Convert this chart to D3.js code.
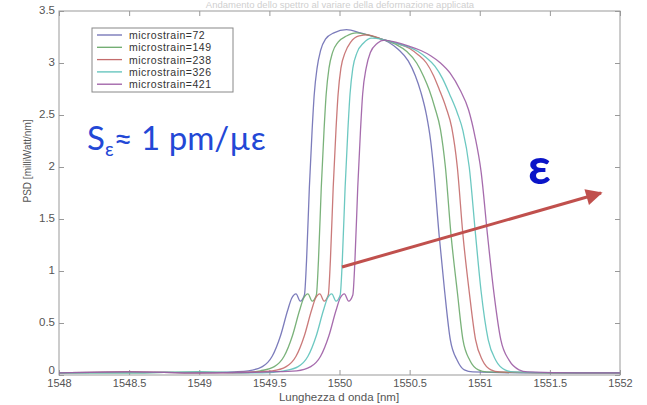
<!DOCTYPE html>
<html>
<head>
<meta charset="utf-8">
<script src="https://cdn.jsdelivr.net/npm/d3@7"></script>
<style>
  body { margin: 0; background: #fff; }
  svg { display: block; }
</style>
</head>
<body>
<div id="chart"></div>
<script>
// Spectra: [wavelength nm, PSD mW/nm]
const s72 = [[1548.00,0.02],[1548.50,0.03],[1549.00,0.02],[1549.25,0.03],[1549.35,0.04],[1549.45,0.08],[1549.52,0.18],[1549.58,0.38],[1549.63,0.62],[1549.66,0.74],[1549.69,0.78],[1549.72,0.71],[1549.75,0.77],[1549.765,1.10],[1549.785,1.80],[1549.805,2.36],[1549.82,2.70],[1549.84,2.95],[1549.865,3.12],[1549.90,3.23],[1549.96,3.29],[1550.05,3.32],[1550.15,3.29],[1550.25,3.25],[1550.35,3.20],[1550.42,3.13],[1550.49,3.02],[1550.54,2.88],[1550.58,2.72],[1550.62,2.50],[1550.65,2.25],[1550.67,2.00],[1550.71,1.35],[1550.75,0.80],[1550.79,0.34],[1550.84,0.14],[1550.89,0.05],[1550.95,0.03],[1551.40,0.02],[1552.00,0.02]];
const s149 = [[1548.00,0.02],[1548.50,0.02],[1549.00,0.03],[1549.30,0.02],[1549.435,0.04],[1549.535,0.08],[1549.605,0.18],[1549.665,0.38],[1549.715,0.62],[1549.745,0.74],[1549.775,0.78],[1549.805,0.71],[1549.835,0.77],[1549.85,1.10],[1549.87,1.80],[1549.89,2.36],[1549.905,2.70],[1549.925,2.95],[1549.95,3.10],[1549.99,3.20],[1550.05,3.26],[1550.12,3.29],[1550.20,3.27],[1550.30,3.23],[1550.40,3.18],[1550.48,3.11],[1550.55,3.00],[1550.60,2.87],[1550.64,2.74],[1550.68,2.57],[1550.72,2.36],[1550.755,2.00],[1550.795,1.35],[1550.84,0.80],[1550.88,0.34],[1550.93,0.14],[1550.99,0.05],[1551.05,0.03],[1551.50,0.02],[1552.00,0.02]];
const s238 = [[1548.00,0.02],[1548.50,0.03],[1549.00,0.02],[1549.40,0.03],[1549.52,0.04],[1549.62,0.08],[1549.69,0.18],[1549.75,0.38],[1549.80,0.62],[1549.83,0.74],[1549.86,0.78],[1549.89,0.71],[1549.92,0.77],[1549.935,1.10],[1549.955,1.80],[1549.975,2.36],[1549.99,2.70],[1550.01,2.95],[1550.04,3.10],[1550.08,3.20],[1550.14,3.26],[1550.20,3.27],[1550.30,3.23],[1550.40,3.19],[1550.50,3.14],[1550.56,3.08],[1550.62,3.00],[1550.67,2.88],[1550.71,2.75],[1550.76,2.57],[1550.80,2.38],[1550.84,2.00],[1550.88,1.35],[1550.925,0.80],[1550.97,0.34],[1551.02,0.14],[1551.08,0.05],[1551.14,0.03],[1551.60,0.02],[1552.00,0.02]];
const s326 = [[1548.00,0.02],[1548.50,0.02],[1549.00,0.03],[1549.45,0.02],[1549.605,0.04],[1549.705,0.08],[1549.775,0.18],[1549.835,0.38],[1549.885,0.62],[1549.915,0.74],[1549.945,0.78],[1549.975,0.71],[1550.005,0.77],[1550.02,1.10],[1550.04,1.80],[1550.06,2.36],[1550.075,2.70],[1550.095,2.95],[1550.125,3.10],[1550.17,3.19],[1550.23,3.24],[1550.30,3.23],[1550.40,3.19],[1550.50,3.15],[1550.56,3.11],[1550.62,3.05],[1550.68,2.97],[1550.735,2.85],[1550.785,2.70],[1550.84,2.52],[1550.88,2.35],[1550.925,2.00],[1550.97,1.35],[1551.01,0.80],[1551.06,0.34],[1551.115,0.14],[1551.18,0.05],[1551.24,0.03],[1551.60,0.02],[1552.00,0.02]];
const s421 = [[1548.00,0.02],[1548.50,0.03],[1549.00,0.02],[1549.50,0.03],[1549.695,0.04],[1549.795,0.08],[1549.865,0.18],[1549.925,0.38],[1549.975,0.62],[1550.005,0.74],[1550.035,0.78],[1550.065,0.71],[1550.095,0.77],[1550.11,1.10],[1550.13,1.80],[1550.15,2.36],[1550.165,2.70],[1550.19,2.95],[1550.22,3.10],[1550.27,3.19],[1550.32,3.22],[1550.40,3.20],[1550.50,3.16],[1550.58,3.12],[1550.65,3.07],[1550.72,3.00],[1550.79,2.90],[1550.86,2.74],[1550.92,2.55],[1550.965,2.30],[1551.01,1.95],[1551.055,1.35],[1551.10,0.80],[1551.15,0.34],[1551.21,0.14],[1551.28,0.05],[1551.34,0.03],[1551.70,0.02],[1552.00,0.02]];

const seriesNames = ['microstrain=72', 'microstrain=149', 'microstrain=238', 'microstrain=326', 'microstrain=421'];
const seriesData = [s72, s149, s238, s326, s421];
const seriesColors = ['#6e6eb4', '#6caa6c', '#c46c6c', '#5cc2ba', '#9c5ca4'];

const xTicks = [1548, 1548.5, 1549, 1549.5, 1550, 1550.5, 1551, 1551.5, 1552];
const yTicks = [0, 0.5, 1, 1.5, 2, 2.5, 3, 3.5];

const width = 647;
const height = 405;
const margin = { top: 11, right: 27, bottom: 30, left: 59 };
const plotW = width - margin.left - margin.right;
const plotH = height - margin.top - margin.bottom;

const svg = d3.select('#chart')
  .append('svg')
  .attr('width', width)
  .attr('height', height);

svg.append('rect')
  .attr('width', width)
  .attr('height', height)
  .attr('fill', '#fff');

// faint title above the plot
svg.append('text')
  .attr('x', 340)
  .attr('y', 8)
  .attr('text-anchor', 'middle')
  .style('font-family', 'Liberation Sans, Arial, sans-serif')
  .style('font-size', '9.5px')
  .style('fill', '#cfcfcf')
  .text('Andamento dello spettro al variare della deformazione applicata');

const g = svg.append('g')
  .attr('transform', `translate(${margin.left},${margin.top})`);

const x = d3.scaleLinear().domain([1548, 1552]).range([0, plotW]);
const y = d3.scaleLinear().domain([0, 3.5]).range([plotH, 0]);

const axisFont = 'Liberation Sans, Arial, sans-serif';
const axisColor = '#555';

function styleAxis(sel) {
  sel.select('.domain').remove();
  sel.selectAll('line').attr('stroke', '#999');
  sel.selectAll('text')
    .style('font-family', axisFont)
    .style('font-size', '11.5px')
    .style('fill', axisColor);
}

g.append('g')
  .attr('transform', `translate(0,${plotH})`)
  .call(d3.axisBottom(x).tickValues(xTicks).tickFormat(d3.format('')).tickSizeInner(-5).tickSizeOuter(0).tickPadding(4))
  .call(styleAxis)
  .selectAll('text').style('font-size', '11px');

g.append('g')
  .call(d3.axisTop(x).tickValues(xTicks).tickFormat('').tickSizeInner(-5).tickSizeOuter(0))
  .call(styleAxis);

g.append('g')
  .call(d3.axisLeft(y).tickValues(yTicks).tickFormat(d3.format('')).tickSizeInner(-5).tickSizeOuter(0).tickPadding(4))
  .call(styleAxis)
  .selectAll('text').attr('dy', d => d === 0 ? '-0.15em' : '0.2em');

g.append('g')
  .attr('transform', `translate(${plotW},0)`)
  .call(d3.axisRight(y).tickValues(yTicks).tickFormat('').tickSizeInner(-5).tickSizeOuter(0))
  .call(styleAxis);

g.append('rect')
  .attr('width', plotW)
  .attr('height', plotH)
  .attr('fill', 'none')
  .attr('stroke', '#999')
  .attr('stroke-width', 1);

// spectra
const line = d3.line()
  .x(d => x(d[0]))
  .y(d => y(d[1]))
  .curve(d3.curveMonotoneX);

g.selectAll('.spectrum')
  .data(seriesData)
  .enter()
  .append('path')
  .attr('class', 'spectrum')
  .attr('d', line)
  .attr('fill', 'none')
  .attr('stroke', (d, i) => seriesColors[i])
  .attr('stroke-width', 1.3)
  .attr('opacity', 0.9);

// legend
const legend = svg.append('g').attr('transform', 'translate(92,28)');
legend.append('rect')
  .attr('width', 141)
  .attr('height', 64)
  .attr('fill', '#fff')
  .attr('stroke', '#888');

seriesNames.forEach((name, i) => {
  const ly = 7 + i * 12.3;
  legend.append('line')
    .attr('x1', 5).attr('x2', 30)
    .attr('y1', ly).attr('y2', ly)
    .attr('stroke', seriesColors[i])
    .attr('stroke-width', 1.3);
  legend.append('text')
    .attr('x', 37)
    .attr('y', ly + 4)
    .style('font-family', axisFont)
    .style('font-size', '10.5px')
    .style('letter-spacing', '0.5px')
    .style('fill', '#333')
    .text(name);
});

// axis titles
svg.append('text')
  .attr('x', 339)
  .attr('y', 401)
  .attr('text-anchor', 'middle')
  .style('font-family', axisFont)
  .style('font-size', '11.5px')
  .style('fill', axisColor)
  .text('Lunghezza d onda [nm]');

svg.append('text')
  .attr('transform', 'translate(31,161) rotate(-90)')
  .attr('text-anchor', 'middle')
  .style('font-family', axisFont)
  .style('font-size', '10px')
  .style('fill', axisColor)
  .text('PSD [milliWatt/nm]');

// annotations
const note = svg.append('text')
  .attr('x', 87)
  .attr('y', 150)
  .style('font-family', 'Lato, Open Sans, sans-serif')
  .style('font-size', '33px')
  .style('fill', '#2348d6');
note.append('tspan').text('S');
note.append('tspan').attr('dy', 6).style('font-size', '19px').text('ε');
note.append('tspan').attr('dy', -6).text('≈ 1 pm/µε');

svg.append('text')
  .attr('x', 528)
  .attr('y', 184)
  .style('font-family', 'Lato, Open Sans, sans-serif')
  .style('font-size', '50px')
  .style('font-weight', 'bold')
  .style('fill', '#0a14c8')
  .text('ε');

svg.append('defs').append('marker')
  .attr('id', 'head')
  .attr('viewBox', '0 0 10 10')
  .attr('refX', 9)
  .attr('refY', 5)
  .attr('markerWidth', 6)
  .attr('markerHeight', 5.5)
  .attr('orient', 'auto')
  .append('path')
  .attr('d', 'M0,0 L10,5 L0,10 Z')
  .attr('fill', '#c0504d');

svg.append('line')
  .attr('x1', 342).attr('y1', 267)
  .attr('x2', 601).attr('y2', 193)
  .attr('stroke', '#c0504d')
  .attr('stroke-width', 3)
  .attr('marker-end', 'url(#head)');
</script>
</body>
</html>
